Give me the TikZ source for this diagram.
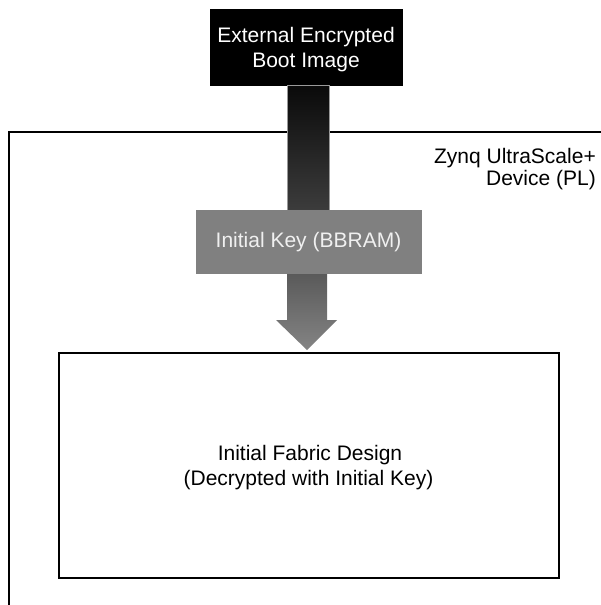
\documentclass[tikz,border=0pt]{standalone}
\usepackage{fontspec}
\setmainfont{Liberation Sans}
\usetikzlibrary{calc}
\definecolor{keygray}{HTML}{808080}
\definecolor{shafttop}{HTML}{0A0A0A}
\definecolor{shaftbot}{HTML}{3C3C3C}
\definecolor{arrtop}{HTML}{5A5A5A}
\definecolor{arrbot}{HTML}{848484}
\begin{document}
\begin{tikzpicture}[x=1pt,y=-1pt,
  lbl/.style={font=\fontsize{21}{24}\selectfont, inner sep=0pt},
  frame/.style={draw=black, line width=2.5pt},
  box/.style={inner sep=0pt, outer sep=0pt}]
\useasboundingbox (0,0) rectangle (600,605);
% outer device frame (continues beyond the picture)
\coordinate (fbl) at (9,610);
\coordinate (ftl) at (9,132);
\coordinate (ftr) at (610,132);
\draw[frame] (fbl) -- (ftl) -- (ftr);
\node[lbl, anchor=base east] (dev1) at (596,163) {Zynq UltraScale+};
\node[lbl, anchor=base east] (dev2) at (596,185) {Device (PL)};
% boxes
\node[box, fill=black, minimum width=193, minimum height=77] (boot) at (306.5,47) {};
\node[box, fill=keygray, minimum width=226, minimum height=64] (key) at (309,242) {};
\node[box, frame, minimum width=500, minimum height=225] (fab) at (309,465.5) {};
% shaft from boot image to key
\shade[top color=shafttop, bottom color=shaftbot, draw=gray!80, line width=0.6pt]
  ($(boot.south)+(-19.5,0)$) rectangle ($(key.north)+(20.5,0)$);
% key box redrawn on top
\node[box, fill=keygray, minimum width=226, minimum height=64] (key2) at (key) {};
% arrow from key to fabric
\coordinate (a1) at ($(key.south)+(-22,0)$);
\coordinate (a2) at ($(key.south)+(18,0)$);
\coordinate (a3) at ($(key.south)+(18,46)$);
\coordinate (a4) at ($(key.south)+(28,46)$);
\coordinate (tip) at ($(fab.north)+(-2,-3)$);
\coordinate (a6) at ($(key.south)+(-33,46)$);
\coordinate (a7) at ($(key.south)+(-22,46)$);
\shade[top color=arrtop, bottom color=arrbot] (a1) -- (a2) -- (a3) -- (a4) -- (tip) -- (a6) -- (a7) -- cycle;
% texts
\node[lbl, text=white, anchor=base] (t1) at (306,42) {External Encrypted};
\node[lbl, text=white, anchor=base] (t2) at (306,67) {Boot Image};
\node[lbl, text=white!94!black, anchor=base] (t3) at (308.5,247) {Initial Key (BBRAM)};
\node[lbl, anchor=base] (t4) at (310,460) {Initial Fabric Design};
\node[lbl, anchor=base] (t5) at (308.5,485) {(Decrypted with Initial Key)};
\end{tikzpicture}
\end{document}
